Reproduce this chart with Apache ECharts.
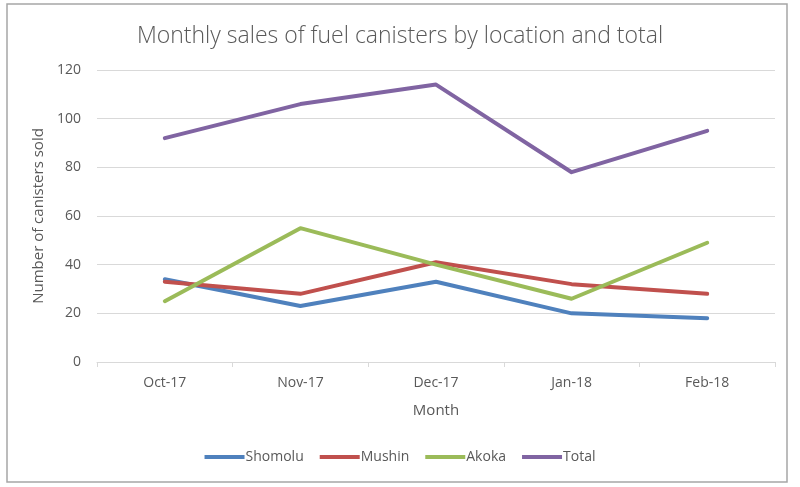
<!DOCTYPE html>
<html><head><meta charset="utf-8">
<script src="https://cdn.jsdelivr.net/npm/echarts@6/dist/echarts.min.js"></script>
<style>html,body{margin:0;padding:0;background:#fff}#c{width:800px;height:487px}</style>
</head><body><div id="c"></div>
<script>
const categories = ['Oct-17','Nov-17','Dec-17','Jan-18','Feb-18'];
const shomolu = [34, 23, 33, 20, 18];
const mushin = [33, 28, 41, 32, 28];
const akoka = [25, 55, 40, 26, 49];
const total = [92, 106, 114, 78, 95];
const seriesNames = ['Shomolu','Mushin','Akoka','Total'];
const colors = ['#4F81BD','#C0504D','#9BBB59','#8064A2'];
const font = 'Open Sans';
const txt = '#595959';
const chart = echarts.init(document.getElementById('c'));
const data = [shomolu, mushin, akoka, total];
chart.setOption({
  animation:false,
  color: colors,
  title:{text:'Monthly sales of fuel canisters by location and total', left:'center', top:20,
    textStyle:{fontFamily:font, fontWeight:300, fontSize:23, color:txt}},
  graphic:[{type:'rect', shape:{x:7,y:4,width:780,height:478}, style:{fill:null, stroke:'#a6a6a6', lineWidth:1.5}, silent:true}],
  grid:{left:97, right:25, top:70, bottom:125, containLabel:false},
  legend:{bottom:18, left:'center', itemWidth:40, itemHeight:4, itemGap:16, icon:'rect',
    textStyle:{fontFamily:font, fontSize:14, color:txt, padding:[0,0,0,-4]},
    data: seriesNames},
  xAxis:{type:'category', data:categories, boundaryGap:true,
    name:'Month', nameLocation:'middle', nameGap:41,
    nameTextStyle:{fontFamily:font, fontSize:15, color:txt},
    axisLine:{lineStyle:{color:'#d9d9d9', width:1}},
    axisTick:{show:true, length:5, lineStyle:{color:'#d9d9d9'}},
    axisLabel:{fontFamily:font, fontSize:14, color:txt, margin:14}},
  yAxis:{type:'value', min:0, max:120, interval:20,
    name:'Number of canisters sold', nameLocation:'middle', nameGap:44,
    nameTextStyle:{fontFamily:font, fontSize:15, color:txt},
    axisLine:{show:false}, axisTick:{show:false},
    axisLabel:{fontFamily:font, fontSize:14, color:txt, margin:16}},
  series: seriesNames.map((n,i)=>({name:n, type:'line', data:data[i], symbol:'none',
    lineStyle:{width:4, color:colors[i], cap:'round', join:'round'}, itemStyle:{color:colors[i]}}))
});
chart.setOption({yAxis:{splitLine:{lineStyle:{color:'#d9d9d9', width:1}}}});
</script></body></html>
